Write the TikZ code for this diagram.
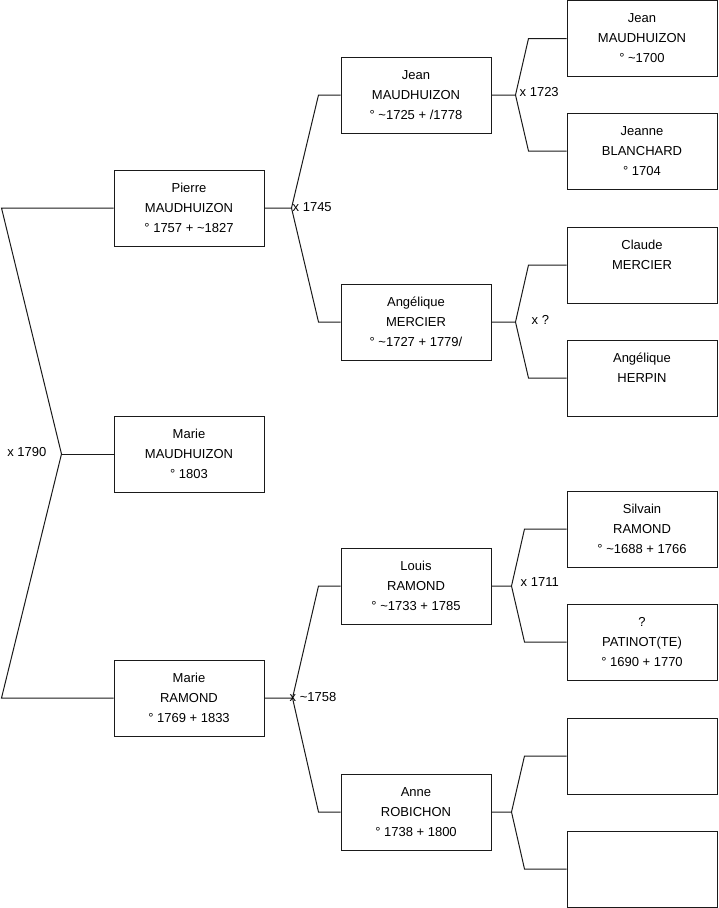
\documentclass[tikz,border=0pt]{standalone}
\usepackage{fontspec}
\setmainfont{Liberation Sans}
\usepackage{xcolor}
\usetikzlibrary{positioning,calc}
\definecolor{ink}{HTML}{1A1A1A}
\tikzset{
  person/.style={
    draw=ink,fill=white,line width=1pt,
    minimum width=150pt,minimum height=76pt,inner sep=0pt,
    align=center,font=\fontsize{13}{20}\selectfont
  },
  link/.style={draw=ink,line width=1pt},
  union/.style={inner sep=0pt,font=\fontsize{13}{15}\selectfont}
}

\begin{document}
\begin{tikzpicture}[x=1pt,y=-1pt]
\useasboundingbox (0,0) rectangle (719,908);

% children and parents
\node[person] (pierre) at (189,208) {Pierre\\MAUDHUIZON\\° 1757 + \textasciitilde1827};
\node[person] (marieM) at (189,454) {Marie\\MAUDHUIZON\\° 1803};
\node[person] (marieR) at (189,698) {Marie\\RAMOND\\° 1769 + 1833};

% grandparents
\node[person] (jeanM) at (416,95) {Jean\\MAUDHUIZON\\° \textasciitilde1725 + /1778};
\node[person] (angeliqueM) at (416,322) {Angélique\\MERCIER\\° \textasciitilde1727 + 1779/};
\node[person] (louisR) at (416,586) {Louis\\RAMOND\\° \textasciitilde1733 + 1785};
\node[person] (anneR) at (416,812) {Anne\\ROBICHON\\° 1738 + 1800};

% great-grandparents
\node[person] (jeanMold) at (642,38.5) {Jean\\MAUDHUIZON\\° \textasciitilde1700};
\node[person] (jeanneB) at (642,151) {Jeanne\\BLANCHARD\\° 1704};
\node[person] (claudeM) at (642,265) {Claude\\MERCIER\\\mbox{}};
\node[person] (angeliqueH) at (642,378) {Angélique\\HERPIN\\\mbox{}};
\node[person] (silvainR) at (642,529) {Silvain\\RAMOND\\° \textasciitilde1688 + 1766};
\node[person] (patinot) at (642,642) {?\\PATINOT(TE)\\° 1690 + 1770};
\node[person] (unknownA) at (642,756) {};
\node[person] (unknownB) at (642,869) {};

% unions
\coordinate (v0) at ([xshift=-52pt]marieM.west);
\coordinate (v1) at ([xshift=27pt]pierre.east);
\coordinate (v2) at ([xshift=24pt]jeanM.east);
\coordinate (v3) at ([xshift=24pt]angeliqueM.east);
\coordinate (v4) at ([xshift=28pt]marieR.east);
\coordinate (v5) at ([xshift=20pt]louisR.east);
\coordinate (v6) at ([xshift=20pt]anneR.east);

\draw[link] (pierre.west) -- ([xshift=-112pt]pierre.west) -- (v0)
  -- ([xshift=-112pt]marieR.west) -- (marieR.west);
\draw[link] (v0) -- (marieM.west);

\draw[link] (pierre.east) -- (v1) -- ([xshift=-22pt]jeanM.west) -- (jeanM.west);
\draw[link] (v1) -- ([xshift=-22pt]angeliqueM.west) -- (angeliqueM.west);

\draw[link] (jeanM.east) -- (v2) -- ([xshift=-38pt]jeanMold.west) -- (jeanMold.west);
\draw[link] (v2) -- ([xshift=-38pt]jeanneB.west) -- (jeanneB.west);

\draw[link] (angeliqueM.east) -- (v3) -- ([xshift=-38pt]claudeM.west) -- (claudeM.west);
\draw[link] (v3) -- ([xshift=-38pt]angeliqueH.west) -- (angeliqueH.west);

\draw[link] (marieR.east) -- (v4) -- ([xshift=-22pt]louisR.west) -- (louisR.west);
\draw[link] (v4) -- ([xshift=-22pt]anneR.west) -- (anneR.west);

\draw[link] (louisR.east) -- (v5) -- ([xshift=-42pt]silvainR.west) -- (silvainR.west);
\draw[link] (v5) -- ([xshift=-42pt]patinot.west) -- (patinot.west);

\draw[link] (anneR.east) -- (v6) -- ([xshift=-42pt]unknownA.west) -- (unknownA.west);
\draw[link] (v6) -- ([xshift=-42pt]unknownB.west) -- (unknownB.west);

% marriage labels
\node[union,anchor=east] (m0) at ([xshift=-15pt,yshift=2pt]v0) {x 1790};
\node[union,anchor=west] (m1) at ([xshift=1pt,yshift=1pt]v1) {x 1745};
\node[union,anchor=west] (m2) at ([xshift=4pt,yshift=3pt]v2) {x 1723};
\node[union,anchor=west] (m3) at ([xshift=16pt,yshift=2pt]v3) {x ?};
\node[union,anchor=west] (m4) at ([xshift=-3pt,yshift=1pt]v4) {x \textasciitilde1758};
\node[union,anchor=west] (m5) at ([xshift=9pt,yshift=4pt]v5) {x 1711};
\end{tikzpicture}
\end{document}
